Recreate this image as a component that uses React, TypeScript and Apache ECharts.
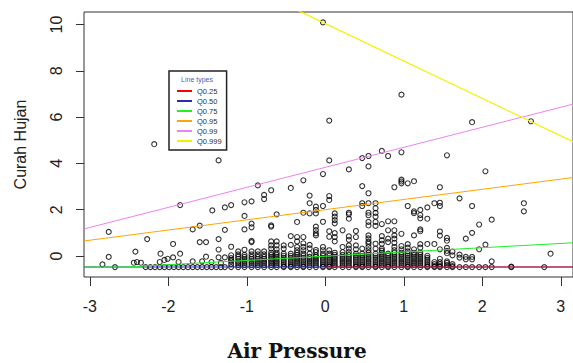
import { useEffect, useRef } from "react";
import * as echarts from "echarts";

// Standardised air pressure at each observed reading (x) and the standardised
// rainfall values recorded at that reading (y).
const pressure = [
  -2.84, -2.76, -2.68, -2.44, -2.42, -2.4, -2.35, -2.29, -2.27, -2.23, -2.18, -2.17,
  -2.11, -2.1, -2.05, -2.01, -1.99, -1.94, -1.93, -1.87, -1.85, -1.81, -1.75, -1.69,
  -1.63, -1.6, -1.57, -1.52, -1.51, -1.45, -1.44, -1.39, -1.36, -1.33, -1.28,
  -1.2, -1.11, -1.03, -0.94, -0.86, -0.78, -0.69, -0.62, -0.53, -0.44, -0.36, -0.28,
  -0.2, -0.12, -0.03, 0.05, 0.12, 0.22, 0.3, 0.39, 0.47, 0.55, 0.64, 0.72, 0.8, 0.88,
  0.97, 1.05, 1.13, 1.21, 1.3, 1.39, 1.46, 1.55, 1.62, 1.71, 1.79, 1.87, 1.96, 2.04,
  2.12, 2.37, 2.53, 2.62, 2.79, 2.87,
];

const rainfall = [
  [-0.36],
  [1.04, -0.04],
  [-0.48],
  [-0.29],
  [0.19],
  [-0.26],
  [-0.29],
  [-0.48],
  [0.73],
  [-0.48],
  [4.83],
  [-0.48],
  [-0.48, -0.26],
  [0.1],
  [-0.48, -0.17],
  [-0.12],
  [-0.48],
  [0.52, -0.06],
  [-0.48],
  [-0.48, -0.26],
  [2.2, 0.1],
  [-0.48],
  [-0.48],
  [1.15, -0.23, -0.48],
  [-0.48],
  [1.31, 0.6],
  [-0.48, -0.23],
  [0.6, -0.03],
  [-0.48],
  [-0.48, -0.26],
  [1.97],
  [-0.48],
  [4.13, 0.73, 0.28, -0.06],
  [-0.48, -0.3],
  [2.1, 1.13, -0.06, -0.48],
  [2.2, 0.4, 0.03, -0.09, -0.17, -0.23, -0.35, -0.48],
  [0.2, 0.07, -0.03, -0.12, -0.23, -0.3, -0.39, -0.48],
  [2.32, 1.73, 1.15, 0.27, 0.05, -0.04, -0.13, -0.22, -0.3, -0.39, -0.48],
  [2.36, 1.4, 1.24, 0.65, 0.6, 0.2, 0.07, -0.04, -0.13, -0.22, -0.3, -0.39, -0.48],
  [3.05, 0.2, 0.07, -0.04, -0.13, -0.22, -0.3, -0.39, -0.48],
  [2.64, 2.46, 0.2, 0.07, -0.04, -0.13, -0.22, -0.3, -0.39, -0.48],
  [2.84, 1.32, 1.27, 0.63, 0.46, 0.32, 0.14, 0.05, -0.04, -0.13, -0.22, -0.3, -0.39, -0.48],
  [1.8, 0.63, 0.46, 0.29, 0.14, 0.05, -0.04, -0.13, -0.22, -0.3, -0.39, -0.48],
  [0.46, 0.32, 0.1, 0.01, -0.08, -0.17, -0.26, -0.35, -0.44, -0.48],
  [2.94, 0.86, 0.48, 0.1, 0.01, -0.08, -0.17, -0.26, -0.35, -0.44, -0.48],
  [1.47, 0.82, 0.63, 0.39, 0.25, 0.14, 0.05, -0.04, -0.13, -0.22, -0.3, -0.39, -0.48],
  [3.27, 1.87, 0.82, 0.55, 0.39, 0.25, 0.1, 0.01, -0.08, -0.17, -0.26, -0.35, -0.44, -0.48],
  [2.61, 2.28, 1.84, 0.48, 0.33, 0.1, -0.04, -0.13, -0.22, -0.3, -0.39, -0.48],
  [2.13, 1.99, 1.84, 1.27, 1.12, 0.98, 0.89, 0.26, 0.17, 0.03, -0.04, -0.13, -0.22, -0.3, -0.39, -0.48],
  [10.09, 3.54, 2.16, 1.48, 0.39, 0.25, 0.1, 0.01, -0.08, -0.17, -0.26, -0.35, -0.44, -0.48],
  [5.85, 4.13, 2.59, 2.42, 1.07, 0.83, 0.25, 0.1, 0.01, -0.08, -0.17, -0.26, -0.35, -0.44, -0.48],
  [1.84, 1.7, 1.55, 1.41, 0.99, 0.82, 0.63, 0.14, 0.05, -0.04, -0.13, -0.22, -0.3, -0.39, -0.48],
  [1.11, 0.39, 0.17, 0.05, -0.04, -0.13, -0.22, -0.3, -0.39, -0.48],
  [3.74, 1.87, 1.8, 1.61, 0.85, 0.7, 0.46, 0.32, 0.17, 0.05, -0.04, -0.13, -0.22, -0.3, -0.39, -0.48],
  [1.08, 0.82, 0.46, 0.29, 0.1, 0.01, -0.08, -0.17, -0.26, -0.35, -0.44, -0.48],
  [4.23, 3.02, 2.28, 2.16, 0.32, 0.1, 0.01, -0.08, -0.17, -0.26, -0.35, -0.44, -0.48],
  [4.32, 3.87, 2.71, 2.28, 1.87, 1.76, 1.47, 1.32, 0.89, 0.76, 0.62, 0.53, 0.39, 0.25, 0.14, 0.05, -0.04, -0.13, -0.22, -0.3, -0.39, -0.48],
  [2.28, 2.06, 1.86, 1.7, 1.47, 1.3, 0.53, 0.32, 0.1, 0.01, -0.08, -0.17, -0.26, -0.35, -0.44, -0.48],
  [4.54, 1.38, 0.86, 0.68, 0.53, 0.32, 0.23, 0.14, 0.05, -0.04, -0.13, -0.22, -0.3, -0.39, -0.48],
  [4.32, 1.5, 1.11, 0.75, 0.6, 0.1, 0.01, -0.08, -0.17, -0.26, -0.35, -0.44, -0.48],
  [2.97, 1.5, 1.11, 0.89, 0.75, 0.57, 0.39, 0.25, 0.14, 0.05, -0.04, -0.13, -0.22, -0.3, -0.39, -0.48],
  [6.97, 4.48, 3.3, 3.22, 3.14, 0.96, 0.43, 0.29, 0.14, 0.05, -0.04, -0.13, -0.22, -0.3, -0.39, -0.48],
  [3.14, 2.16, 0.51, 0.36, 0.2, 0.1, 0.01, -0.08, -0.17, -0.26, -0.35, -0.44, -0.48],
  [3.23, 1.93, 1.85, 0.89, 0.29, 0.14, 0.05, -0.04, -0.13, -0.22, -0.3, -0.39, -0.48],
  [1.99, 1.77, 1.63, 1.15, 1.07, 0.51, 0.36, 0.14, 0.05, -0.04, -0.13, -0.22, -0.3, -0.39, -0.48],
  [2.1, 1.61, 0.52, 0.01, -0.08, -0.17, -0.26, -0.35, -0.44, -0.48],
  [2.28, 0.52, -0.26, -0.35, -0.44, -0.48],
  [2.97, 2.3, 2.16, 1.06, 0.88, 0.29, -0.12, -0.26, -0.35, -0.44, -0.48],
  [4.35, 0.78, 0.66, 0.35, 0.22, 0.12, -0.23, -0.3, -0.39, -0.48],
  [0.19, 0.03, -0.35, -0.44, -0.48],
  [2.49, 0.06, -0.07, -0.48],
  [0.75, -0.04, -0.14, -0.48],
  [5.78, 2.16, 1.0, -0.04, -0.14, -0.48],
  [1.36, 0.29, -0.48],
  [3.66, 0.49, -0.48],
  [1.57, -0.23, -0.48],
  [-0.46, -0.48],
  [2.28, 1.93],
  [5.82],
  [-0.48],
  [0.1],
];

// Fitted quantile regression lines, as [pressure, rainfall] knots.
const quantileNames = ["Q0.25", "Q0.50", "Q0.75", "Q0.95", "Q0.99", "Q0.999"];
const q025 = [[0, -0.475], [3.156, -0.475]];
const q050 = [[-3.075, -0.475], [3.156, -0.475]];
const q075 = [[-3.075, -0.475], [-2.55, -0.475], [3.156, 0.57]];
const q095 = [[-3.075, 0.65], [3.156, 3.39]];
const q099 = [[-3.075, 1.17], [3.156, 6.56]];
const q0999 = [[-3.075, 15.01], [3.156, 4.94]];

const xTicks = [-3, -2, -1, 0, 1, 2, 3];
const yTicks = [0, 2, 4, 6, 8, 10];

export default function App() {
  const ref = useRef<HTMLDivElement>(null);

  useEffect(() => {
    if (!ref.current) return;
    const chart = echarts.init(ref.current, null, { renderer: "svg" });

    const points: number[][] = [];
    pressure.forEach((p, i) => rainfall[i].forEach((r) => points.push([p, r])));

    const sans = "Liberation Sans";
    const line = (name: string, data: number[][], color: string, extra: any = {}) => ({
      name,
      type: "line",
      data,
      color,
      symbol: "none",
      showSymbol: false,
      silent: true,
      z: 3,
      lineStyle: { width: 1, color, ...extra },
    });

    chart.setOption({
      animation: false,
      backgroundColor: "#ffffff",
      grid: {
        left: 84,
        top: 12,
        width: 496,
        height: 265,
        show: true,
        borderColor: "#333",
        borderWidth: 1,
      },
      xAxis: {
        type: "value",
        min: -3.075,
        max: 3.156,
        axisLine: { show: false, onZero: false },
        splitLine: { show: false },
        axisTick: { show: true, length: 9, customValues: xTicks, lineStyle: { color: "#333" } },
        axisLabel: { customValues: xTicks, margin: 21, fontSize: 16, color: "#222", fontFamily: sans },
      },
      yAxis: {
        type: "value",
        min: -0.907,
        max: 10.54,
        axisLine: { show: false, onZero: false },
        splitLine: { show: false },
        axisTick: { show: true, length: 8, customValues: yTicks, lineStyle: { color: "#333" } },
        axisLabel: {
          customValues: yTicks,
          rotate: 90,
          margin: 20,
          fontSize: 16,
          color: "#222",
          fontFamily: sans,
        },
        name: "Curah Hujan",
        nameLocation: "middle",
        nameGap: 56,
        nameTextStyle: { fontSize: 16, color: "#222", fontFamily: sans },
      },
      legend: {
        data: quantileNames,
        orient: "vertical",
        left: 169,
        top: 71,
        padding: [16, 5, 5, 8],
        itemWidth: 15,
        itemHeight: 2,
        itemGap: 2,
        icon: "rect",
        selectedMode: false,
        borderColor: "#222",
        borderWidth: 1.5,
        textStyle: { fontSize: 7.5, color: "#333", fontFamily: sans },
      },
      graphic: [
        {
          type: "text",
          x: 197,
          y: 79,
          z: 10,
          style: {
            text: "Line types",
            align: "center",
            verticalAlign: "middle",
            fontSize: 7,
            fontFamily: sans,
            fill: "#4466bb",
          },
        },
        {
          type: "text",
          x: 297,
          y: 351,
          style: {
            text: "Air Pressure",
            align: "center",
            verticalAlign: "middle",
            font: 'bold 20px "DejaVu Serif"',
            fill: "#111",
          },
        },
      ],
      series: [
        {
          name: "observations",
          type: "scatter",
          data: points,
          symbol: "circle",
          symbolSize: 5,
          silent: true,
          z: 2,
          itemStyle: { color: "rgba(0,0,0,0)", borderColor: "#000", borderWidth: 1.1 },
        },
        line("Q0.50", q050, "#2b2bb0"),
        line("Q0.25", q025, "#ff0000", { opacity: 0.8 }),
        line("Q0.75", q075, "#22ee22"),
        line("Q0.95", q095, "#ffa500"),
        line("Q0.99", q099, "#ee82ee"),
        line("Q0.999", q0999, "#f2f200", { width: 1.3 }),
      ],
    });

    return () => chart.dispose();
  }, []);

  return (
    <div
      ref={ref}
      style={{ position: "fixed", left: 0, top: 0, width: 573, height: 363 }}
    />
  );
}
